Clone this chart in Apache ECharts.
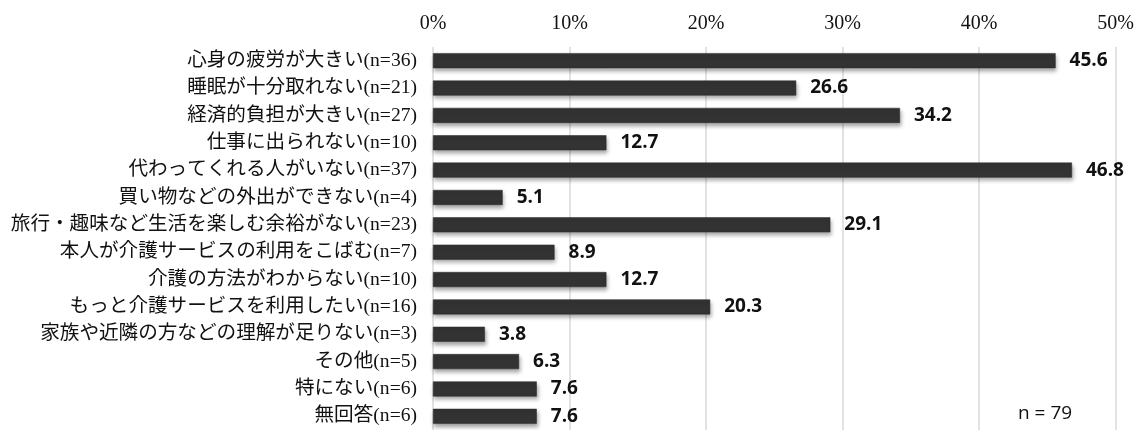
<!DOCTYPE html>
<html>
<head>
<meta charset="utf-8">
<script src="https://cdn.jsdelivr.net/npm/echarts@6/dist/echarts.min.js"></script>
<style>
html,body{margin:0;padding:0;background:#fff;}
#chart{width:1137px;height:430px;}
</style>
</head>
<body>
<div id="chart"></div>
<script>
const categories = [
  '心身の疲労が大きい(n=36)',
  '睡眠が十分取れない(n=21)',
  '経済的負担が大きい(n=27)',
  '仕事に出られない(n=10)',
  '代わってくれる人がいない(n=37)',
  '買い物などの外出ができない(n=4)',
  '旅行・趣味など生活を楽しむ余裕がない(n=23)',
  '本人が介護サービスの利用をこばむ(n=7)',
  '介護の方法がわからない(n=10)',
  'もっと介護サービスを利用したい(n=16)',
  '家族や近隣の方などの理解が足りない(n=3)',
  'その他(n=5)',
  '特にない(n=6)',
  '無回答(n=6)'
];
const values = [45.6, 26.6, 34.2, 12.7, 46.8, 5.1, 29.1, 8.9, 12.7, 20.3, 3.8, 6.3, 7.6, 7.6];
const axisMin = 0, axisMax = 50, axisStep = 10;
const noteText = 'n = 79';

const chart = echarts.init(document.getElementById('chart'), null, {renderer: 'canvas'});
chart.setOption({
  animation: false,
  backgroundColor: '#ffffff',
  grid: {left: 433, right: 20, top: 47, height: 389, containLabel: false},
  xAxis: {
    type: 'value', position: 'top', min: axisMin, max: axisMax, interval: axisStep,
    axisLine: {show: false}, axisTick: {show: false},
    splitLine: {show: true, lineStyle: {color: '#d9d9d9', width: 1.5}},
    axisLabel: {
      formatter: '{value}%', margin: 13,
      fontFamily: "'Liberation Serif', 'DejaVu Serif', serif", fontSize: 20, color: '#111'
    }
  },
  yAxis: {
    type: 'category', data: categories, inverse: true,
    axisLine: {show: false}, axisTick: {show: false},
    axisLabel: {
      margin: 16, fontFamily: "'Liberation Serif', 'Noto Sans CJK JP', serif",
      fontSize: 19.6, color: '#111'
    }
  },
  series: [{
    type: 'bar', data: values, barWidth: 15,
    itemStyle: {
      color: '#333333', borderColor: '#2a2a2a', borderWidth: 0.5,
      shadowColor: 'rgba(0,0,0,0.35)', shadowBlur: 4, shadowOffsetX: 1, shadowOffsetY: 3
    },
    label: {
      show: true, position: 'right', distance: 14,
      formatter: p => p.value.toFixed(1),
      fontFamily: "'Open Sans', 'Liberation Sans', sans-serif",
      fontWeight: 'bold', fontSize: 19, color: '#111'
    }
  }],
  graphic: [{
    type: 'text', left: 1018, top: 404,
    style: {
      text: noteText, fontFamily: "'Open Sans', 'Liberation Sans', sans-serif",
      fontSize: 19, fill: '#111'
    }
  }]
});
</script>
</body>
</html>
